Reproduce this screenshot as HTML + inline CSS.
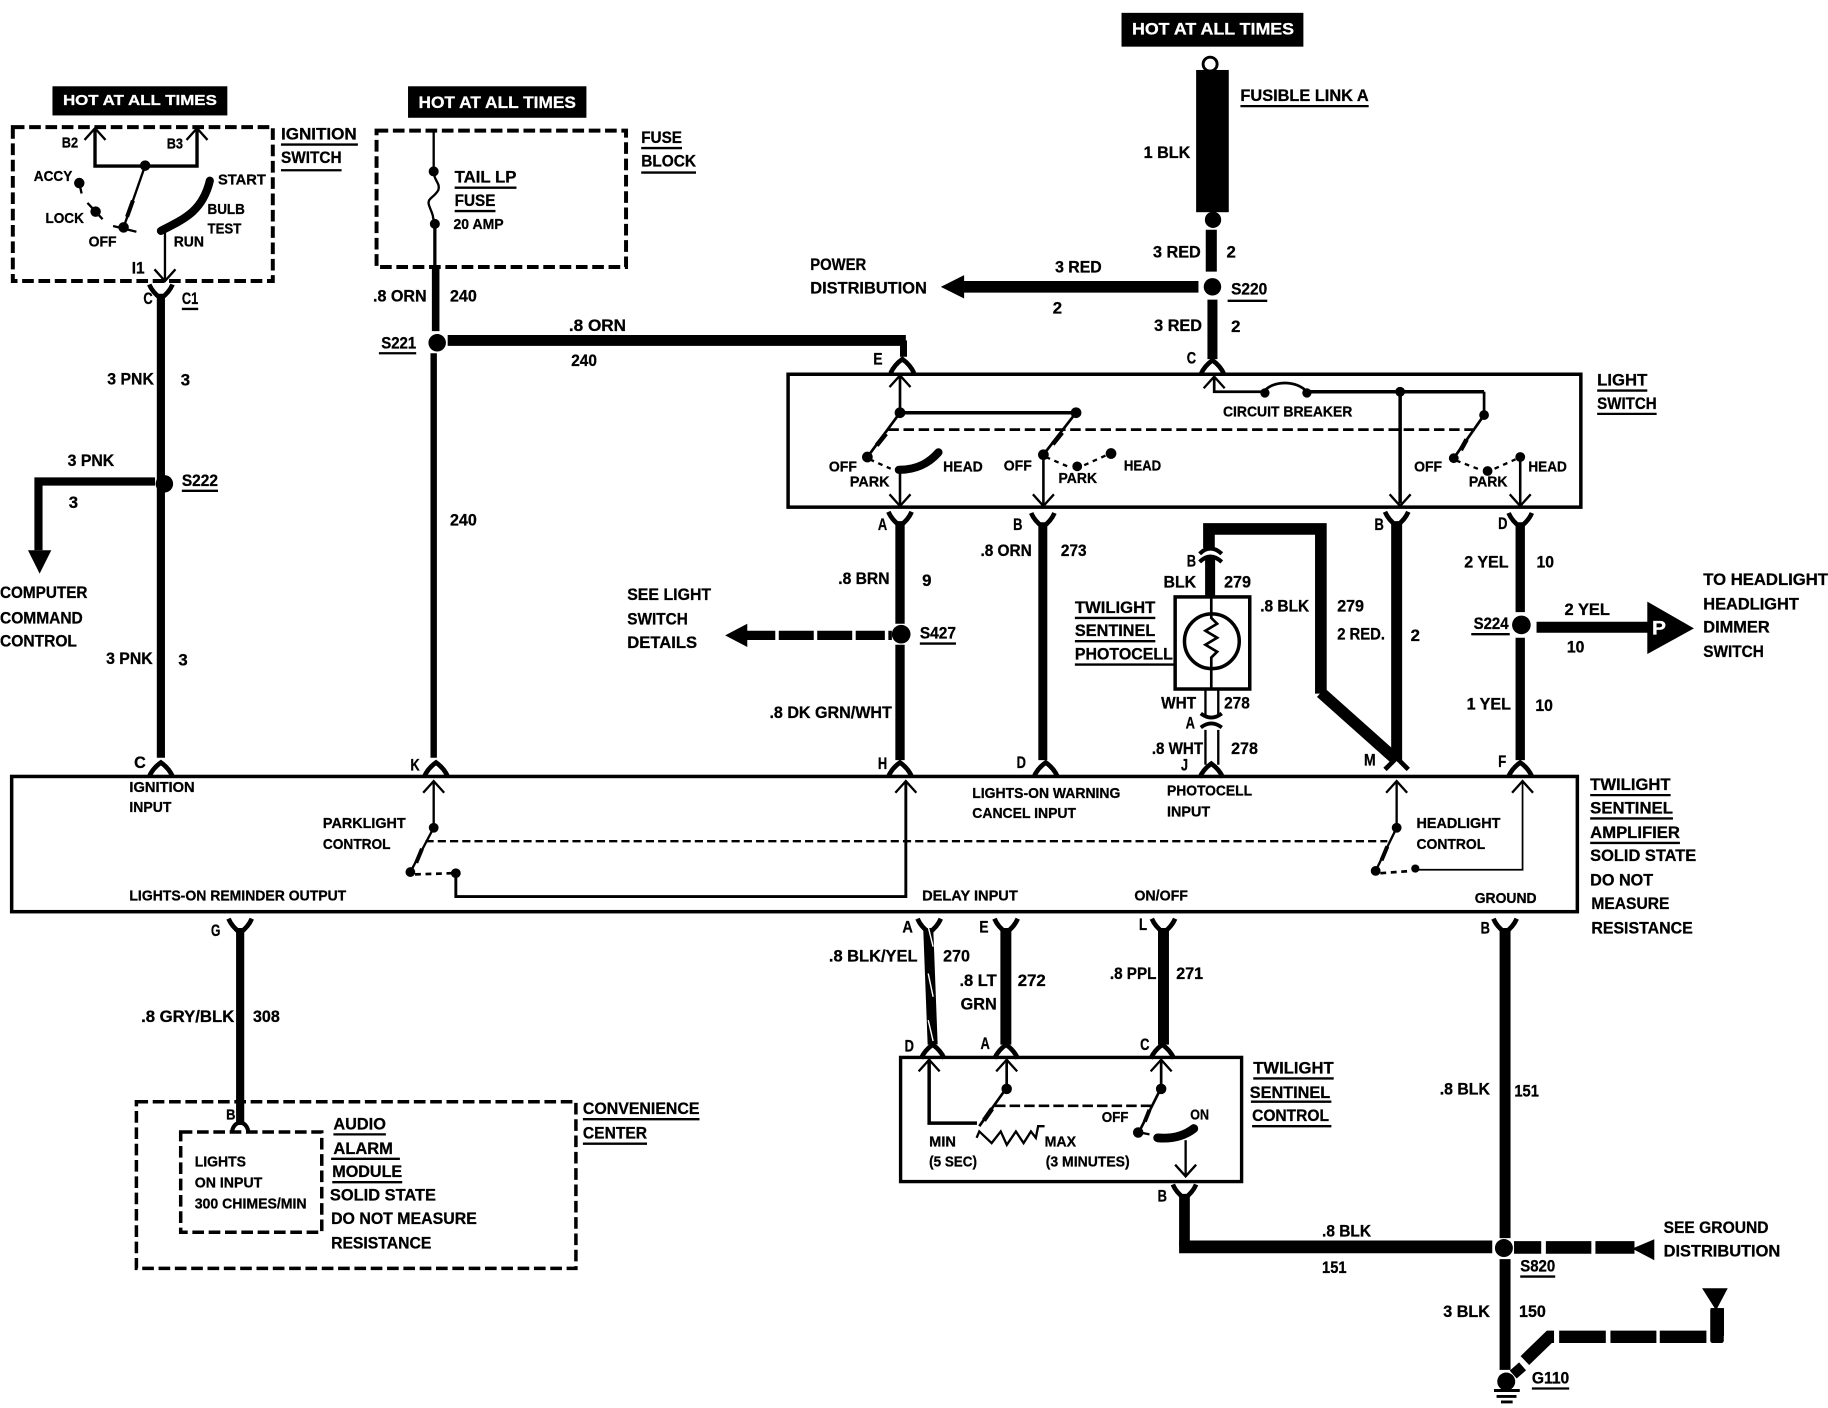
<!DOCTYPE html>
<html><head><meta charset="utf-8"><style>
html,body{margin:0;padding:0;background:#fff}
svg{display:block}
text{font-family:"Liberation Sans",sans-serif;font-weight:bold;font-size:14.5px;fill:#000;stroke:#000;stroke-width:.25px;dominant-baseline:central}
.s{font-size:12.5px}
.w{fill:#fff;stroke:#fff}
.n{fill:none;stroke:#000}
</style></head><body>
<svg xmlns="http://www.w3.org/2000/svg" width="1828" height="1408" viewBox="0 0 1568 1207.7">
<rect width="1568" height="1208" fill="#fff"/>
<defs>
<path id="f" d="M-10,-8 Q-7,-1 0,4 Q7,-1 10,-8" fill="none" stroke="#000" stroke-width="4"/>
<path id="u" d="M-10,8 Q-7,1 0,-4 Q7,1 10,8" fill="none" stroke="#000" stroke-width="4"/>
<path id="au" d="M-9,10 L0,0 L9,10" fill="none" stroke="#000" stroke-width="2"/>
<path id="ad" d="M-9,-10 L0,0 L9,-10" fill="none" stroke="#000" stroke-width="2"/>
</defs>

<!-- HOT boxes -->
<rect x="45" y="74" width="150" height="25"/>
<rect x="350" y="74" width="153" height="27"/>
<rect x="962" y="11" width="156" height="29"/>
<text class="w" x="54" y="86" textLength="132" lengthAdjust="spacingAndGlyphs" style="font-size:13px">HOT AT ALL TIMES</text>
<text class="w" x="359" y="88" textLength="135" lengthAdjust="spacingAndGlyphs">HOT AT ALL TIMES</text>
<text class="w" x="971" y="25" textLength="139" lengthAdjust="spacingAndGlyphs">HOT AT ALL TIMES</text>

<!-- Ignition switch -->
<rect class="n" x="11" y="109" width="223" height="132" stroke-width="3.4" stroke-dasharray="10 4"/>
<path class="n" stroke-width="2.9" d="M81.5,111V142.4H169V111"/>
<use href="#au" x="81.5" y="110"/><use href="#au" x="169" y="110"/>
<circle cx="124.5" cy="142" r="4.5"/>
<path class="n" stroke-width="2" d="M124.5,142L106,195"/>
<path class="n" stroke-width="3.5" d="M114,172L109,186"/>
<circle cx="68" cy="157" r="4.5"/><path class="n" stroke-width="2" d="M68,157L70,166"/>
<circle cx="82" cy="181.5" r="4.5"/><path class="n" stroke-width="2" d="M75,174L88,188"/>
<circle cx="106" cy="195" r="4.5"/><path class="n" stroke-width="2" d="M97,193.8L117,198.8"/>
<path class="n" stroke-width="7" stroke-linecap="round" d="M180,155C174,180 160,187 138,198"/>
<path class="n" stroke-width="2" d="M141.5,198V240"/>
<use href="#ad" x="141.5" y="241"/>
<use href="#f" x="138" y="252"/>
<path class="n" stroke-width="7" d="M138,252V650"/>
<use href="#u" x="138" y="658"/>
<circle cx="141" cy="415" r="7.5"/>
<path class="n" stroke-width="7" d="M133,413H33V472"/>
<path d="M24,472H44L34,492Z"/>
<text x="241" y="115" textLength="65" lengthAdjust="spacingAndGlyphs">IGNITION</text>
<text x="241" y="135" textLength="52" lengthAdjust="spacingAndGlyphs">SWITCH</text>
<path class="n" stroke-width="2" d="M241,124H307M241,146H293"/>
<text class="s" x="53" y="123" textLength="14" lengthAdjust="spacingAndGlyphs">B2</text>
<text class="s" x="143" y="124" textLength="14" lengthAdjust="spacingAndGlyphs">B3</text>
<text class="s" x="29" y="152" textLength="33" lengthAdjust="spacingAndGlyphs">ACCY</text>
<text class="s" x="187" y="155" textLength="41" lengthAdjust="spacingAndGlyphs">START</text>
<text class="s" x="178" y="180" textLength="32" lengthAdjust="spacingAndGlyphs">BULB</text>
<text class="s" x="178" y="197" textLength="29" lengthAdjust="spacingAndGlyphs">TEST</text>
<text class="s" x="149" y="208" textLength="26" lengthAdjust="spacingAndGlyphs">RUN</text>
<text class="s" x="76" y="208" textLength="24" lengthAdjust="spacingAndGlyphs">OFF</text>
<text class="s" x="39" y="188" textLength="33" lengthAdjust="spacingAndGlyphs">LOCK</text>
<text x="113" y="230" textLength="11" lengthAdjust="spacingAndGlyphs">I1</text>
<text x="123" y="256" textLength="8" lengthAdjust="spacingAndGlyphs">C</text>
<text x="156" y="256" textLength="14" lengthAdjust="spacingAndGlyphs">C1</text>
<path class="n" stroke-width="2" d="M156,265H170"/>
<text x="92" y="325" textLength="40" lengthAdjust="spacingAndGlyphs">3 PNK</text>
<text x="155" y="326" textLength="8" lengthAdjust="spacingAndGlyphs">3</text>
<text x="58" y="395" textLength="40" lengthAdjust="spacingAndGlyphs">3 PNK</text>
<text x="59" y="431" textLength="8" lengthAdjust="spacingAndGlyphs">3</text>
<text x="156" y="412" textLength="31" lengthAdjust="spacingAndGlyphs">S222</text>
<path class="n" stroke-width="2" d="M156,421H187"/>
<text x="0" y="508" textLength="75" lengthAdjust="spacingAndGlyphs">COMPUTER</text>
<text x="0" y="530" textLength="71" lengthAdjust="spacingAndGlyphs">COMMAND</text>
<text x="0" y="550" textLength="66" lengthAdjust="spacingAndGlyphs">CONTROL</text>
<text x="91" y="565" textLength="40" lengthAdjust="spacingAndGlyphs">3 PNK</text>
<text x="153" y="566" textLength="8" lengthAdjust="spacingAndGlyphs">3</text>
<text x="115" y="654" textLength="10" lengthAdjust="spacingAndGlyphs">C</text>

<!-- Fuse block -->
<rect class="n" x="323" y="112" width="214" height="117" stroke-width="3.4" stroke-dasharray="10 4"/>
<path class="n" stroke-width="2" d="M372,112V147C372,155 378,157 376,163C372,170 366,170 368,176C370,182 372,184 372,192"/>
<path class="n" stroke-width="2.8" d="M373,192V229"/>
<circle cx="372" cy="147" r="4.3"/><circle cx="373" cy="192" r="4.3"/>
<path class="n" stroke-width="6.5" d="M373.7,229V284"/>
<path class="n" stroke-width="5.5" d="M372,303V650"/>
<circle cx="375" cy="294" r="7.5"/>
<path class="n" stroke-width="9.4" d="M384,292H777"/>
<path class="n" stroke-width="6" d="M775,292V306"/>
<use href="#u" x="774" y="312"/>
<use href="#u" x="374" y="658"/>
<text x="390" y="152" textLength="53" lengthAdjust="spacingAndGlyphs">TAIL LP</text>
<text x="390" y="172" textLength="35" lengthAdjust="spacingAndGlyphs">FUSE</text>
<path class="n" stroke-width="2" d="M390,161H443M390,181H425"/>
<text class="s" x="389" y="193" textLength="43" lengthAdjust="spacingAndGlyphs">20 AMP</text>
<text x="320" y="254" textLength="46" lengthAdjust="spacingAndGlyphs">.8 ORN</text>
<text x="386" y="254" textLength="23" lengthAdjust="spacingAndGlyphs">240</text>
<text x="327" y="294" textLength="30" lengthAdjust="spacingAndGlyphs">S221</text>
<path class="n" stroke-width="2" d="M325,303H357"/>
<text x="488" y="279" textLength="49" lengthAdjust="spacingAndGlyphs">.8  ORN</text>
<text x="490" y="309" textLength="22" lengthAdjust="spacingAndGlyphs">240</text>
<text x="386" y="446" textLength="23" lengthAdjust="spacingAndGlyphs">240</text>
<text x="550" y="118" textLength="35" lengthAdjust="spacingAndGlyphs">FUSE</text>
<text x="550" y="138" textLength="47" lengthAdjust="spacingAndGlyphs">BLOCK</text>
<path class="n" stroke-width="2" d="M550,127H585M550,148H597"/>

<!-- Fusible link / S220 -->
<circle class="n" cx="1038" cy="55" r="6" stroke-width="2.5"/>
<rect x="1026" y="60" width="28" height="122"/>
<circle cx="1040.5" cy="188.5" r="7"/>
<path class="n" stroke-width="9.5" d="M1039,197V233"/>
<path class="n" stroke-width="8.6" d="M1040,257V308"/>
<circle cx="1040" cy="246" r="7.5"/>
<path class="n" stroke-width="10" d="M826,246H1028"/>
<path d="M807,246L827,236V256Z"/>
<use href="#u" x="1040" y="313"/>
<text x="1064" y="82" textLength="110" lengthAdjust="spacingAndGlyphs">FUSIBLE LINK A</text>
<path class="n" stroke-width="2" d="M1064,91H1174"/>
<text x="981" y="131" textLength="40" lengthAdjust="spacingAndGlyphs">1 BLK</text>
<text x="989" y="216" textLength="41" lengthAdjust="spacingAndGlyphs">3 RED</text>
<text x="1052" y="216" textLength="8" lengthAdjust="spacingAndGlyphs">2</text>
<text x="905" y="229" textLength="40" lengthAdjust="spacingAndGlyphs">3 RED</text>
<text x="903" y="264" textLength="8" lengthAdjust="spacingAndGlyphs">2</text>
<text x="695" y="227" textLength="48" lengthAdjust="spacingAndGlyphs">POWER</text>
<text x="695" y="247" textLength="100" lengthAdjust="spacingAndGlyphs">DISTRIBUTION</text>
<text x="1056" y="248" textLength="31" lengthAdjust="spacingAndGlyphs">S220</text>
<path class="n" stroke-width="2" d="M1053,258H1087"/>
<text x="990" y="279" textLength="41" lengthAdjust="spacingAndGlyphs">3 RED</text>
<text x="1056" y="280" textLength="8" lengthAdjust="spacingAndGlyphs">2</text>
<text x="1018" y="307" textLength="8" lengthAdjust="spacingAndGlyphs">C</text>
<text x="749" y="308" textLength="8" lengthAdjust="spacingAndGlyphs">E</text>

<!-- Light switch -->
<rect class="n" x="676" y="321" width="680" height="114" stroke-width="3"/>
<path class="n" stroke-width="2.3" d="M772,322V354"/><use href="#au" x="772" y="322"/>
<path class="n" stroke-width="3" d="M772,354H923"/>
<circle cx="772" cy="354" r="4.6"/><circle cx="923" cy="354" r="4.6"/>
<path class="n" stroke-width="2.3" d="M772,354L744,392M923,354L895,390"/>
<path class="n" stroke-width="4" d="M760,372L752,382M911,371L903,381"/>
<circle cx="744" cy="392" r="4.6"/><circle cx="895" cy="390" r="4.6"/>
<path class="n" stroke-width="2" stroke-dasharray="4 4" d="M746,394L764,402M897,392L918,401M930,399L950,390"/>
<path class="n" stroke-width="7" stroke-linecap="round" d="M771,403C788,403 798,396 805,388"/>
<path class="n" stroke-width="2.2" d="M772,404V433M895,390V433"/>
<use href="#ad" x="772" y="434"/><use href="#ad" x="895" y="434"/>
<circle cx="924" cy="400" r="4.2"/><circle cx="953" cy="389" r="4.6"/>
<path class="n" stroke-width="2.3" stroke-dasharray="9 4" d="M762,368.5H1265"/>
<path class="n" stroke-width="2.3" d="M1041.5,323V336H1084"/><use href="#au" x="1041.5" y="323"/>
<path class="n" stroke-width="2.3" d="M1084,336C1092,326 1112,326 1121,336"/>
<circle cx="1085" cy="337" r="4"/><circle cx="1121" cy="337" r="4"/>
<path class="n" stroke-width="3" d="M1121,336H1273"/>
<path class="n" stroke-width="2.3" d="M1273,336V356L1247,393"/>
<path class="n" stroke-width="4" d="M1258,377L1253,386"/>
<circle cx="1273" cy="356" r="4.2"/><circle cx="1247" cy="393" r="4.2"/>
<circle cx="1201" cy="336" r="4.2"/>
<path class="n" stroke-width="3" d="M1201,336V432"/><use href="#ad" x="1201" y="434"/>
<circle cx="1276" cy="404" r="4.2"/><circle cx="1304" cy="392" r="4.2"/>
<path class="n" stroke-width="2" stroke-dasharray="4 4" d="M1249,395L1270,403M1282,402L1300,394"/>
<path class="n" stroke-width="2.2" d="M1304,392V433"/><use href="#ad" x="1304" y="434"/>
<text class="s" x="1049" y="354" textLength="111" lengthAdjust="spacingAndGlyphs">CIRCUIT BREAKER</text>
<text class="s" x="711" y="401" textLength="24" lengthAdjust="spacingAndGlyphs">OFF</text>
<text class="s" x="729" y="414" textLength="34" lengthAdjust="spacingAndGlyphs">PARK</text>
<text class="s" x="809" y="401" textLength="34" lengthAdjust="spacingAndGlyphs">HEAD</text>
<text class="s" x="861" y="400" textLength="24" lengthAdjust="spacingAndGlyphs">OFF</text>
<text class="s" x="908" y="411" textLength="33" lengthAdjust="spacingAndGlyphs">PARK</text>
<text class="s" x="964" y="400" textLength="32" lengthAdjust="spacingAndGlyphs">HEAD</text>
<text class="s" x="1213" y="401" textLength="24" lengthAdjust="spacingAndGlyphs">OFF</text>
<text class="s" x="1260" y="414" textLength="33" lengthAdjust="spacingAndGlyphs">PARK</text>
<text class="s" x="1311" y="401" textLength="33" lengthAdjust="spacingAndGlyphs">HEAD</text>
<text x="1370" y="326" textLength="43" lengthAdjust="spacingAndGlyphs">LIGHT</text>
<text x="1370" y="346" textLength="51" lengthAdjust="spacingAndGlyphs">SWITCH</text>
<path class="n" stroke-width="2" d="M1370,335H1413M1370,355H1421"/>

<!-- Vertical wires between boxes -->
<use href="#f" x="772" y="447"/>
<path class="n" stroke-width="8" d="M772,447V535M772,553V652"/>
<circle cx="773" cy="544" r="8"/>
<use href="#u" x="772" y="658"/>
<path class="n" stroke-width="8" stroke-dasharray="25 3 30 3 30 3" d="M640,545H765"/>
<path d="M622,545L641,535V555Z"/>
<use href="#f" x="894.5" y="448"/>
<path class="n" stroke-width="7.7" d="M894.5,448V652"/>
<use href="#u" x="897" y="658"/>
<text x="753" y="450" textLength="8" lengthAdjust="spacingAndGlyphs">A</text>
<text x="719" y="496" textLength="44" lengthAdjust="spacingAndGlyphs">.8 BRN</text>
<text x="791" y="498" textLength="8" lengthAdjust="spacingAndGlyphs">9</text>
<text x="789" y="543" textLength="31" lengthAdjust="spacingAndGlyphs">S427</text>
<path class="n" stroke-width="2" d="M789,552H820"/>
<text x="660" y="611" textLength="105" lengthAdjust="spacingAndGlyphs">.8 DK GRN/WHT</text>
<text x="753" y="655" textLength="8" lengthAdjust="spacingAndGlyphs">H</text>
<text x="538" y="510" textLength="72" lengthAdjust="spacingAndGlyphs">SEE LIGHT</text>
<text x="538" y="531" textLength="52" lengthAdjust="spacingAndGlyphs">SWITCH</text>
<text x="538" y="551" textLength="60" lengthAdjust="spacingAndGlyphs">DETAILS</text>
<text x="869" y="450" textLength="8" lengthAdjust="spacingAndGlyphs">B</text>
<text x="841" y="472" textLength="44" lengthAdjust="spacingAndGlyphs">.8 ORN</text>
<text x="910" y="472" textLength="22" lengthAdjust="spacingAndGlyphs">273</text>
<text x="872" y="654" textLength="8" lengthAdjust="spacingAndGlyphs">D</text>

<!-- Photocell -->
<path class="n" stroke-width="10" d="M1037,470V453.7H1133V595"/>
<path class="n" stroke-width="10" d="M1133,594L1198,652"/>
<path class="n" stroke-width="3.5" d="M1029,475Q1038,466 1048,475"/>
<path class="n" stroke-width="3.5" d="M1029,482Q1038,473 1048,482"/>
<path class="n" stroke-width="8.6" d="M1038,478V512"/>
<rect class="n" x="1008" y="512" width="64" height="79" stroke-width="3"/>
<circle class="n" cx="1039.5" cy="550" r="23.5" stroke-width="3"/>
<path class="n" stroke-width="2.3" d="M1039,512V530L1044,535L1034,541L1044,547L1034,553L1044,559L1039,564V591"/>
<path class="n" stroke-width="2" d="M1034,592V613M1045,592V613M1034,626V656M1045,626V656"/>
<path class="n" stroke-width="3.2" d="M1030,612Q1039,619 1048,612"/>
<path class="n" stroke-width="3.2" d="M1030,624Q1039,617 1048,624"/>
<use href="#u" x="1039" y="659"/>
<text x="998" y="499" textLength="28" lengthAdjust="spacingAndGlyphs">BLK</text>
<text x="1050" y="499" textLength="23" lengthAdjust="spacingAndGlyphs">279</text>
<text x="922" y="521" textLength="69" lengthAdjust="spacingAndGlyphs">TWILIGHT</text>
<text x="922" y="541" textLength="69" lengthAdjust="spacingAndGlyphs">SENTINEL</text>
<text x="922" y="561" textLength="84" lengthAdjust="spacingAndGlyphs">PHOTOCELL</text>
<path class="n" stroke-width="2" d="M922,530H991M922,550H991M922,570H1008"/>
<text x="996" y="603" textLength="30" lengthAdjust="spacingAndGlyphs">WHT</text>
<text x="1050" y="603" textLength="22" lengthAdjust="spacingAndGlyphs">278</text>
<text x="1017" y="620" textLength="8" lengthAdjust="spacingAndGlyphs">A</text>
<text x="988" y="642" textLength="44" lengthAdjust="spacingAndGlyphs">.8 WHT</text>
<text x="1056" y="642" textLength="23" lengthAdjust="spacingAndGlyphs">278</text>
<text x="1013" y="656" textLength="6" lengthAdjust="spacingAndGlyphs">J</text>
<text x="1018" y="481" textLength="8" lengthAdjust="spacingAndGlyphs">B</text>
<text x="1081" y="520" textLength="42" lengthAdjust="spacingAndGlyphs">.8 BLK</text>
<text x="1147" y="520" textLength="23" lengthAdjust="spacingAndGlyphs">279</text>
<text x="1147" y="544" textLength="41" lengthAdjust="spacingAndGlyphs">2 RED.</text>
<text x="1210" y="545" textLength="8" lengthAdjust="spacingAndGlyphs">2</text>

<!-- B wire, D wire -->
<use href="#f" x="1198" y="447"/>
<path class="n" stroke-width="9.4" d="M1198,447V652"/>
<path class="n" stroke-width="4" d="M1188,660L1198,650L1208,660"/>
<text x="1179" y="450" textLength="8" lengthAdjust="spacingAndGlyphs">B</text>
<text x="1170" y="652" textLength="10" lengthAdjust="spacingAndGlyphs">M</text>
<use href="#f" x="1304" y="448"/>
<path class="n" stroke-width="8" d="M1304,448V525M1304,547V652"/>
<circle cx="1305" cy="536" r="8"/>
<use href="#u" x="1304" y="658"/>
<path class="n" stroke-width="9.4" d="M1318,538H1415"/>
<path d="M1413,516L1453,539L1413,561Z"/>
<text class="w" x="1417" y="539" textLength="12" lengthAdjust="spacingAndGlyphs" style="font-size:17px">P</text>
<text x="1285" y="449" textLength="8" lengthAdjust="spacingAndGlyphs">D</text>
<text x="1256" y="482" textLength="38" lengthAdjust="spacingAndGlyphs">2 YEL</text>
<text x="1318" y="482" textLength="15" lengthAdjust="spacingAndGlyphs">10</text>
<text x="1264" y="535" textLength="30" lengthAdjust="spacingAndGlyphs">S224</text>
<path class="n" stroke-width="2" d="M1262,544H1295"/>
<text x="1258" y="604" textLength="38" lengthAdjust="spacingAndGlyphs">1 YEL</text>
<text x="1317" y="605" textLength="15" lengthAdjust="spacingAndGlyphs">10</text>
<text x="1285" y="653" textLength="7" lengthAdjust="spacingAndGlyphs">F</text>
<text x="1342" y="523" textLength="39" lengthAdjust="spacingAndGlyphs">2 YEL</text>
<text x="1344" y="555" textLength="15" lengthAdjust="spacingAndGlyphs">10</text>
<text x="1461" y="497" textLength="107" lengthAdjust="spacingAndGlyphs">TO HEADLIGHT</text>
<text x="1461" y="518" textLength="82" lengthAdjust="spacingAndGlyphs">HEADLIGHT</text>
<text x="1461" y="538" textLength="57" lengthAdjust="spacingAndGlyphs">DIMMER</text>
<text x="1461" y="559" textLength="52" lengthAdjust="spacingAndGlyphs">SWITCH</text>

<!-- Amplifier -->
<rect class="n" x="10" y="666" width="1343" height="116" stroke-width="3"/>
<path class="n" stroke-width="2" d="M372,670V710L352,748"/><use href="#au" x="372" y="670"/>
<path class="n" stroke-width="3.5" d="M362,728L357,740"/>
<circle cx="372" cy="710" r="4.2"/><circle cx="352" cy="748" r="4.2"/><circle cx="391" cy="749" r="4.2"/>
<path class="n" stroke-width="2.3" stroke-dasharray="5 4" d="M356,750L388,749"/>
<path class="n" stroke-width="2.5" d="M391,749V769H777V671"/><use href="#au" x="777" y="670"/>
<path class="n" stroke-width="2" stroke-dasharray="7 3.5" d="M365,721.5H1190"/>
<path class="n" stroke-width="2" d="M1198,670V710L1180,747"/><use href="#au" x="1198" y="670"/>
<path class="n" stroke-width="3.5" d="M1190,726L1185,738"/>
<circle cx="1198" cy="710" r="4.2"/><circle cx="1180" cy="747" r="4.2"/><circle cx="1214" cy="745" r="3.5"/>
<path class="n" stroke-width="2.3" stroke-dasharray="5 4" d="M1184,749L1211,747"/>
<path class="n" stroke-width="1.5" d="M1214,746H1306V671"/><use href="#au" x="1306" y="670"/>
<text x="352" y="656" textLength="8" lengthAdjust="spacingAndGlyphs">K</text>
<text class="s" x="111" y="676" textLength="56" lengthAdjust="spacingAndGlyphs">IGNITION</text>
<text class="s" x="111" y="693" textLength="36" lengthAdjust="spacingAndGlyphs">INPUT</text>
<text class="s" x="111" y="769" textLength="186" lengthAdjust="spacingAndGlyphs">LIGHTS-ON REMINDER OUTPUT</text>
<text class="s" x="277" y="707" textLength="71" lengthAdjust="spacingAndGlyphs">PARKLIGHT</text>
<text class="s" x="277" y="725" textLength="58" lengthAdjust="spacingAndGlyphs">CONTROL</text>
<text class="s" x="834" y="681" textLength="127" lengthAdjust="spacingAndGlyphs">LIGHTS-ON WARNING</text>
<text class="s" x="834" y="698" textLength="89" lengthAdjust="spacingAndGlyphs">CANCEL INPUT</text>
<text class="s" x="1001" y="679" textLength="73" lengthAdjust="spacingAndGlyphs">PHOTOCELL</text>
<text class="s" x="1001" y="697" textLength="37" lengthAdjust="spacingAndGlyphs">INPUT</text>
<text class="s" x="1215" y="707" textLength="72" lengthAdjust="spacingAndGlyphs">HEADLIGHT</text>
<text class="s" x="1215" y="725" textLength="59" lengthAdjust="spacingAndGlyphs">CONTROL</text>
<text class="s" x="791" y="769" textLength="82" lengthAdjust="spacingAndGlyphs">DELAY INPUT</text>
<text class="s" x="973" y="769" textLength="46" lengthAdjust="spacingAndGlyphs">ON/OFF</text>
<text class="s" x="1265" y="771" textLength="53" lengthAdjust="spacingAndGlyphs">GROUND</text>
<text x="1364" y="673" textLength="69" lengthAdjust="spacingAndGlyphs">TWILIGHT</text>
<text x="1364" y="693" textLength="71" lengthAdjust="spacingAndGlyphs">SENTINEL</text>
<text x="1364" y="714" textLength="77" lengthAdjust="spacingAndGlyphs">AMPLIFIER</text>
<path class="n" stroke-width="2" d="M1364,682H1433M1364,702H1435M1364,723H1441"/>
<text x="1364" y="734" textLength="91" lengthAdjust="spacingAndGlyphs">SOLID STATE</text>
<text x="1364" y="755" textLength="54" lengthAdjust="spacingAndGlyphs">DO NOT</text>
<text x="1365" y="775" textLength="67" lengthAdjust="spacingAndGlyphs">MEASURE</text>
<text x="1365" y="796" textLength="87" lengthAdjust="spacingAndGlyphs">RESISTANCE</text>

<!-- G wire and convenience center -->
<use href="#f" x="206" y="796"/>
<path class="n" stroke-width="7" d="M206,796V965"/>
<rect class="n" x="117" y="945" width="377" height="143" stroke-width="3" stroke-dasharray="10 4"/>
<rect class="n" x="155" y="971" width="121" height="86" stroke-width="3" stroke-dasharray="10 4"/>
<path class="n" stroke-width="3.5" d="M199,972A7,9 0 0 1 213,972"/>
<text x="181" y="798" textLength="8" lengthAdjust="spacingAndGlyphs">G</text>
<text x="121" y="872" textLength="80" lengthAdjust="spacingAndGlyphs">.8 GRY/BLK</text>
<text x="217" y="872" textLength="23" lengthAdjust="spacingAndGlyphs">308</text>
<text class="s" x="194" y="957" textLength="8" lengthAdjust="spacingAndGlyphs">B</text>
<text x="286" y="964" textLength="45" lengthAdjust="spacingAndGlyphs">AUDIO</text>
<text x="286" y="985" textLength="51" lengthAdjust="spacingAndGlyphs">ALARM</text>
<text x="285" y="1005" textLength="60" lengthAdjust="spacingAndGlyphs">MODULE</text>
<path class="n" stroke-width="2" d="M286,973H331M284,994H343M285,1014H345"/>
<text x="283" y="1025" textLength="91" lengthAdjust="spacingAndGlyphs">SOLID STATE</text>
<text x="284" y="1045" textLength="125" lengthAdjust="spacingAndGlyphs">DO NOT MEASURE</text>
<text x="284" y="1066" textLength="86" lengthAdjust="spacingAndGlyphs">RESISTANCE</text>
<text x="500" y="951" textLength="100" lengthAdjust="spacingAndGlyphs">CONVENIENCE</text>
<text x="500" y="972" textLength="55" lengthAdjust="spacingAndGlyphs">CENTER</text>
<path class="n" stroke-width="2" d="M500,960H600M500,981H555"/>
<text class="s" x="167" y="997" textLength="44" lengthAdjust="spacingAndGlyphs">LIGHTS</text>
<text class="s" x="167" y="1015" textLength="58" lengthAdjust="spacingAndGlyphs">ON INPUT</text>
<text class="s" x="167" y="1033" textLength="96" lengthAdjust="spacingAndGlyphs">300 CHIMES/MIN</text>

<!-- Delay wires -->
<use href="#f" x="797" y="796"/><use href="#f" x="863" y="796"/><use href="#f" x="998" y="796"/>
<path class="n" stroke-width="8.6" d="M796.2,796L800,896"/>
<path style="fill:none;stroke:#fff" stroke-width="1.2" d="M796.2,795L800.4,812M796.2,835L800.4,855M796.2,875L800.4,893"/>
<path class="n" stroke-width="9.4" d="M862.8,796V896"/>
<path class="n" stroke-width="9.4" d="M998,796V896"/>
<use href="#u" x="800" y="900"/><use href="#u" x="863" y="900"/><use href="#u" x="997" y="900"/>
<text x="774" y="795" textLength="9" lengthAdjust="spacingAndGlyphs">A</text>
<text x="840" y="795" textLength="8" lengthAdjust="spacingAndGlyphs">E</text>
<text x="977" y="793" textLength="7" lengthAdjust="spacingAndGlyphs">L</text>
<text x="711" y="820" textLength="76" lengthAdjust="spacingAndGlyphs">.8 BLK/YEL</text>
<text x="809" y="820" textLength="23" lengthAdjust="spacingAndGlyphs">270</text>
<text x="823" y="841" textLength="32" lengthAdjust="spacingAndGlyphs">.8 LT</text>
<text x="824" y="861" textLength="31" lengthAdjust="spacingAndGlyphs">GRN</text>
<text x="873" y="841" textLength="24" lengthAdjust="spacingAndGlyphs">272</text>
<text x="952" y="835" textLength="40" lengthAdjust="spacingAndGlyphs">.8 PPL</text>
<text x="1009" y="835" textLength="23" lengthAdjust="spacingAndGlyphs">271</text>
<text x="776" y="897" textLength="8" lengthAdjust="spacingAndGlyphs">D</text>
<text x="841" y="895" textLength="8" lengthAdjust="spacingAndGlyphs">A</text>
<text x="978" y="896" textLength="8" lengthAdjust="spacingAndGlyphs">C</text>

<!-- Twilight sentinel control -->
<rect class="n" x="772.5" y="907" width="292.5" height="106.5" stroke-width="2.9"/>
<path class="n" stroke-width="3" d="M797,909V963.4H838"/><use href="#au" x="797" y="909"/>
<path class="n" stroke-width="2.3" d="M863.5,909V933L840,966"/><use href="#au" x="863.5" y="909"/>
<path class="n" stroke-width="4" d="M851,951L844,961"/>
<circle cx="863.5" cy="934" r="4.5"/>
<path class="n" stroke-width="2" d="M837.7,976L840,970.5L850.6,980.5L858.4,970.5L863.6,982L871.4,970.5L878,980.5L884.3,970.5L888.5,976L890.5,966H896"/>
<path class="n" stroke-width="2.3" d="M996,909V933L978,969"/><use href="#au" x="996" y="909"/>
<path class="n" stroke-width="3.5" d="M986,952L982,962"/>
<circle cx="996" cy="934" r="4.5"/><circle cx="976.3" cy="971.4" r="4.5"/>
<path class="n" stroke-width="2" d="M976,971L986,973"/>
<path class="n" stroke-width="2.3" stroke-dasharray="9 3.5" d="M853.5,948.5H989"/>
<path class="n" stroke-width="7.5" stroke-linecap="round" d="M993,976C1005,977 1015,975 1024,968"/>
<path class="n" stroke-width="2" d="M1017,978V1008"/><use href="#ad" x="1017" y="1009"/>
<text class="s" x="797" y="980" textLength="23" lengthAdjust="spacingAndGlyphs">MIN</text>
<text class="s" x="797" y="997" textLength="41" lengthAdjust="spacingAndGlyphs">(5 SEC)</text>
<text class="s" x="896" y="980" textLength="27" lengthAdjust="spacingAndGlyphs">MAX</text>
<text class="s" x="897" y="997" textLength="72" lengthAdjust="spacingAndGlyphs">(3 MINUTES)</text>
<text class="s" x="945" y="959" textLength="23" lengthAdjust="spacingAndGlyphs">OFF</text>
<text class="s" x="1021" y="957" textLength="16" lengthAdjust="spacingAndGlyphs">ON</text>
<text x="1075" y="916" textLength="69" lengthAdjust="spacingAndGlyphs">TWILIGHT</text>
<text x="1072" y="937" textLength="69" lengthAdjust="spacingAndGlyphs">SENTINEL</text>
<text x="1074" y="957" textLength="66" lengthAdjust="spacingAndGlyphs">CONTROL</text>
<path class="n" stroke-width="2" d="M1075,925H1144M1073,945H1142M1074,966H1142"/>

<!-- Ground -->
<use href="#f" x="1016" y="1024"/>
<path class="n" stroke-width="9.2" d="M1016,1024V1069"/>
<path d="M1011.4,1064H1280V1075H1011.4Z"/>
<use href="#f" x="1291" y="796"/>
<path class="n" stroke-width="9.4" d="M1291,796V1062M1291,1080V1175"/>
<circle cx="1290" cy="1070.5" r="7.7"/>
<path class="n" stroke-width="10.9" d="M1298.7,1070H1322M1326,1070H1365M1368.5,1070H1402"/>
<path d="M1400,1071L1419,1063V1081Z"/>
<path class="n" stroke-width="10.6" d="M1337.4,1146.7H1377.4M1381.4,1146.7H1420.8M1423.7,1146.7H1463.7"/>
<path class="n" stroke-width="10.6" d="M1308,1167L1329,1146.7H1333"/>
<path class="n" stroke-width="9" d="M1298,1179L1306,1172"/>
<path class="n" stroke-width="11.6" stroke-linejoin="round" d="M1473,1122V1146"/>
<rect x="1467" y="1122" width="11.6" height="30" rx="2"/>
<path d="M1460,1105H1482L1472,1124Z"/>
<circle cx="1292" cy="1185" r="7.7"/>
<path class="n" stroke-width="2.5" d="M1281.5,1192.7H1303.6M1283.7,1197.8H1300.8M1287.5,1202.5H1297.5"/>
<text x="993" y="1026" textLength="8" lengthAdjust="spacingAndGlyphs">B</text>
<text x="1134" y="1056" textLength="42" lengthAdjust="spacingAndGlyphs">.8 BLK</text>
<text x="1134" y="1087" textLength="21" lengthAdjust="spacingAndGlyphs">151</text>
<text x="1304" y="1086" textLength="30" lengthAdjust="spacingAndGlyphs">S820</text>
<path class="n" stroke-width="2" d="M1304,1095H1334"/>
<text x="1427" y="1053" textLength="90" lengthAdjust="spacingAndGlyphs">SEE GROUND</text>
<text x="1427" y="1073" textLength="100" lengthAdjust="spacingAndGlyphs">DISTRIBUTION</text>
<text x="1235" y="934" textLength="43" lengthAdjust="spacingAndGlyphs">.8 BLK</text>
<text x="1299" y="936" textLength="21" lengthAdjust="spacingAndGlyphs">151</text>
<text x="1270" y="796" textLength="8" lengthAdjust="spacingAndGlyphs">B</text>
<text x="1238" y="1125" textLength="40" lengthAdjust="spacingAndGlyphs">3 BLK</text>
<text x="1303" y="1125" textLength="23" lengthAdjust="spacingAndGlyphs">150</text>
<text x="1314" y="1182" textLength="32" lengthAdjust="spacingAndGlyphs">G110</text>
<path class="n" stroke-width="2" d="M1314,1191H1346"/>
</svg>
</body></html>
